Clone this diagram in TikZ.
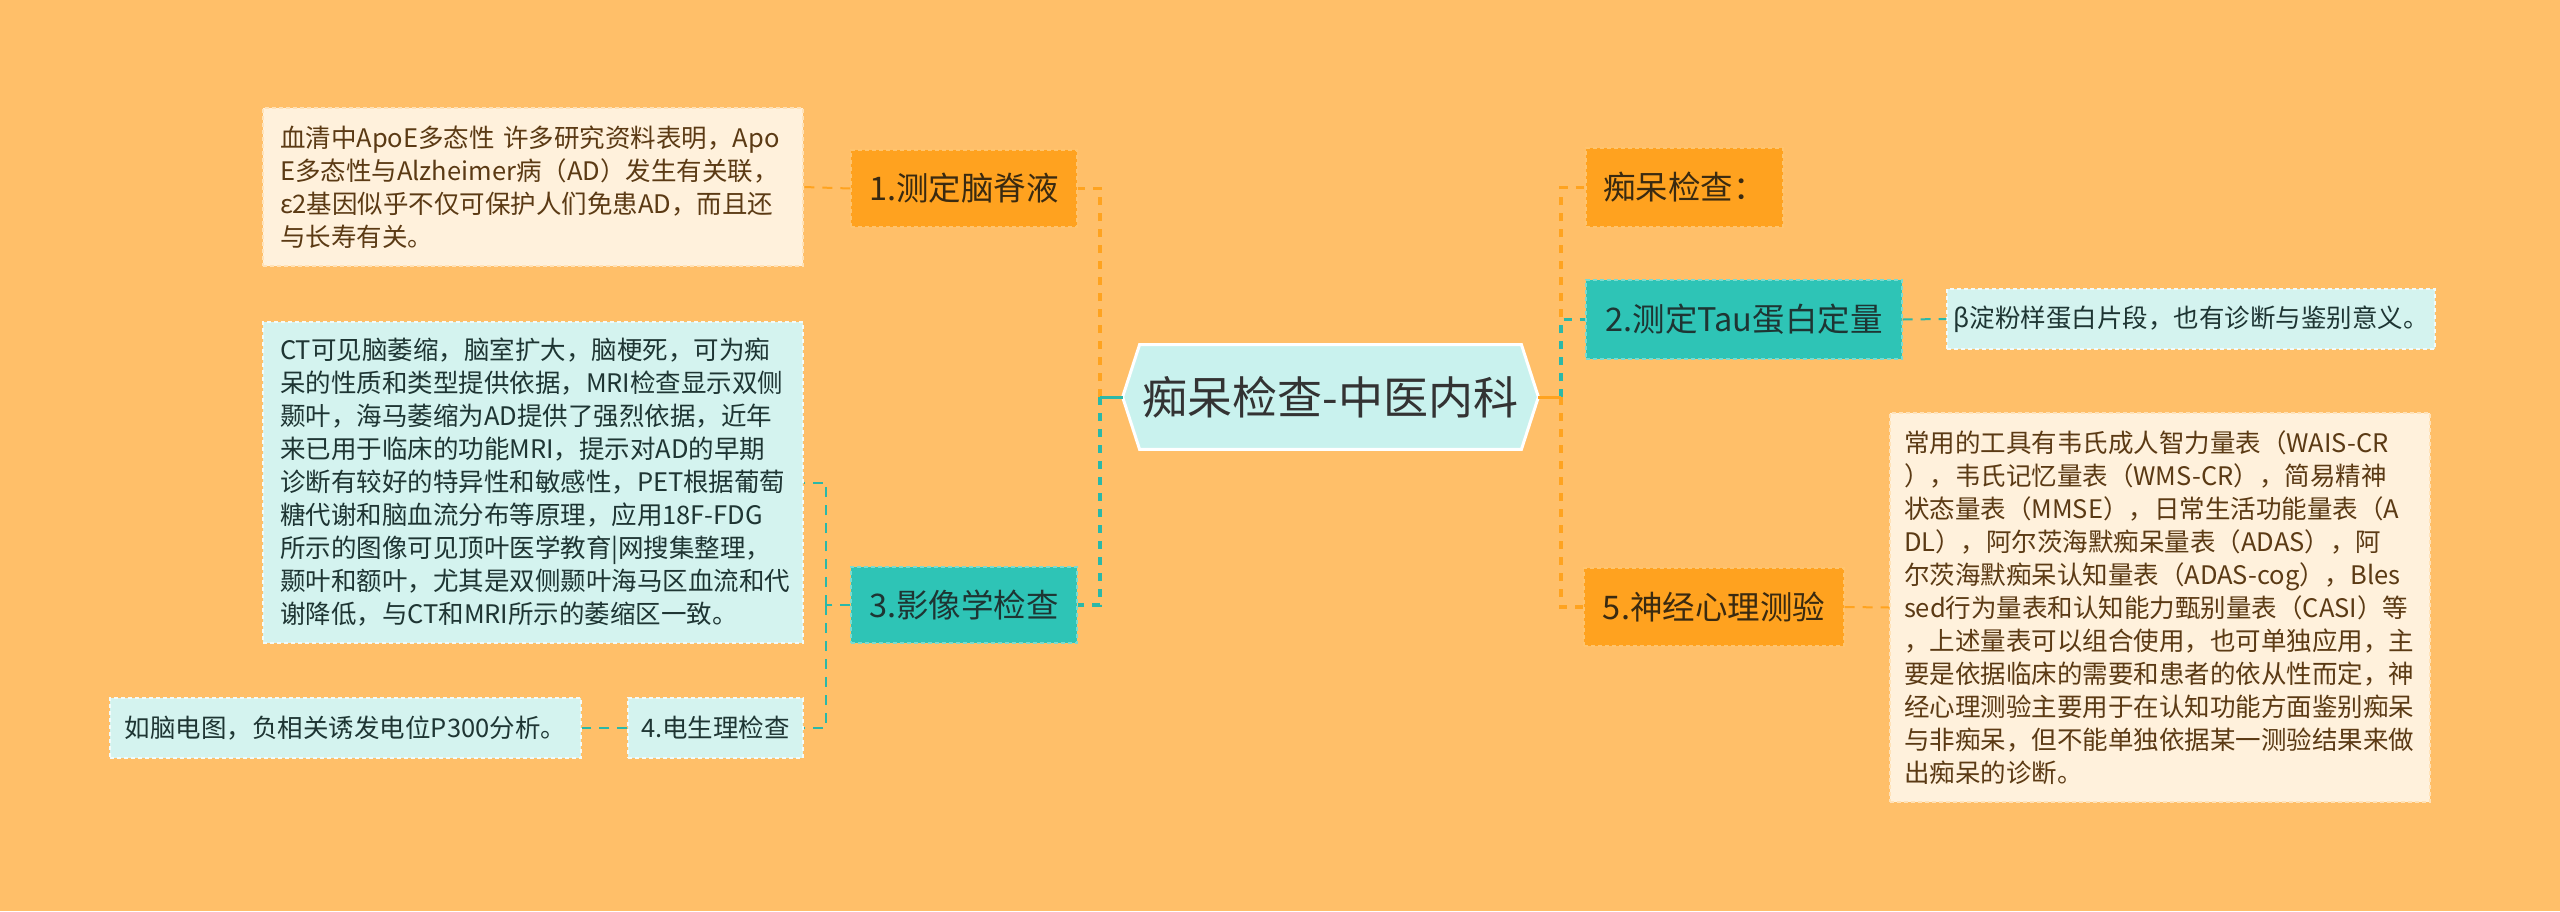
\documentclass[tikz,border=0pt]{standalone}
\usepackage{fontspec}
\setmainfont{Noto Sans CJK SC}
\definecolor{bg}{HTML}{FFBF69}
\definecolor{orgnode}{HTML}{FFA21F}
\definecolor{orgedge}{HTML}{FFC46E}
\definecolor{tealnode}{HTML}{2EC4B6}
\definecolor{tealedge}{HTML}{7ADBD0}
\definecolor{cyanbox}{HTML}{D4F3EF}
\definecolor{cyanedge}{HTML}{F2FBFA}
\definecolor{creambox}{HTML}{FFF1DC}
\definecolor{creamedge}{HTML}{FFE2B8}
\definecolor{hexfill}{HTML}{C9F2EE}
\definecolor{orgline}{HTML}{FFA31F}
\definecolor{tealline}{HTML}{2BB8A8}
\definecolor{browntext}{HTML}{5B3A14}
\definecolor{darktext}{HTML}{1E3533}
\definecolor{maintext}{HTML}{3A2A10}
\definecolor{centertext}{HTML}{333333}
\tikzset{
  boxbase/.style={rectangle, inner sep=0pt, anchor=center, line width=0.6pt, dash pattern=on 2pt off 1.5pt},
  descfont/.style={font=\fontsize{12.75pt}{16.5pt}\selectfont},
  creamdesc/.style={boxbase, fill=creambox, draw=creamedge, text=browntext, descfont, align=left},
  cyandesc/.style={boxbase, fill=cyanbox, draw=cyanedge, text=darktext, descfont, align=left},
  orgtopic/.style={boxbase, fill=orgnode, draw=orgedge, text=maintext, font=\fontsize{16.25pt}{19pt}\selectfont},
  tealtopic/.style={boxbase, fill=tealnode, draw=tealedge, text=darktext, font=\fontsize{16.25pt}{19pt}\selectfont},
  orgmain/.style={draw=orgline, line width=1.6pt, dash pattern=on 4pt off 4pt},
  tealmain/.style={draw=tealline, line width=1.6pt, dash pattern=on 4pt off 4pt},
  orglink/.style={draw=orgline, line width=1pt, dash pattern=on 5pt off 4pt},
  teallink/.style={draw=tealline, line width=1pt, dash pattern=on 5pt off 4pt},
}
\begin{document}
\begin{tikzpicture}[x=0.5pt,y=-0.5pt]
\useasboundingbox (0,0) rectangle (2560,911);
\fill[bg] (0,0) rectangle (2560,911);

% center
\node[minimum width=207.5pt, minimum height=52pt, inner sep=0pt] (c) at (1330.5,397) {};
\fill[hexfill, draw=white, line width=1.5pt] (c.west) -- ([xshift=8.5pt]c.north west) -- ([xshift=-8.5pt]c.north east) -- (c.east) -- ([xshift=-8.5pt]c.south east) -- ([xshift=8.5pt]c.south west) -- cycle;
\node[text=centertext, font=\fontsize{22.5pt}{26pt}\selectfont] (ctext) at (c) {痴呆检查-中医内科};

% left side
\node[orgtopic, minimum width=113pt, minimum height=38.5pt] (n1) at (964,188.5) {1.测定脑脊液};
\node[creamdesc, minimum width=270pt, minimum height=79pt, text width=253pt] (apoe) at (533,187) {血清中ApoE多态性 许多研究资料表明，Apo\\E多态性与Alzheimer病（AD）发生有关联，\\ε2基因似乎不仅可保护人们免患AD，而且还\\与长寿有关。};
\node[tealtopic, minimum width=113pt, minimum height=38pt] (n3) at (964,605) {3.影像学检查};
\node[cyandesc, minimum width=270pt, minimum height=160.5pt, text width=253pt] (ct) at (533,482.5) {CT可见脑萎缩，脑室扩大，脑梗死，可为痴\\呆的性质和类型提供依据，MRI检查显示双侧\\颞叶，海马萎缩为AD提供了强烈依据，近年\\来已用于临床的功能MRI，提示对AD的早期\\诊断有较好的特异性和敏感性，PET根据葡萄\\糖代谢和脑血流分布等原理，应用18F-FDG\\所示的图像可见顶叶医学教育|网搜集整理，\\颞叶和额叶，尤其是双侧颞叶海马区血流和代\\谢降低，与CT和MRI所示的萎缩区一致。};
\node[cyandesc, minimum width=87.5pt, minimum height=30pt] (n4) at (715.5,728) {4.电生理检查};
\node[cyandesc, minimum width=235.5pt, minimum height=30pt] (eeg) at (345.5,728) {如脑电图，负相关诱发电位P300分析。};

% right side
\node[orgtopic, minimum width=98.5pt, minimum height=39.5pt] (t0) at (1684.5,187.5) {痴呆检查：};
\node[tealtopic, minimum width=158pt, minimum height=39.5pt] (n2) at (1744,319.5) {2.测定Tau蛋白定量};
\node[cyandesc, minimum width=244pt, minimum height=30pt] (beta) at (2191,319) {β淀粉样蛋白片段，也有诊断与鉴别意义。};
\node[orgtopic, minimum width=130pt, minimum height=39pt] (n5) at (1714,607) {5.神经心理测验};
\node[creamdesc, minimum width=270pt, minimum height=194.5pt, text width=256pt] (tools) at (2160,607.5) {常用的工具有韦氏成人智力量表（WAIS-CR\\），韦氏记忆量表（WMS-CR），简易精神\\状态量表（MMSE），日常生活功能量表（A\\DL），阿尔茨海默痴呆量表（ADAS），阿\\尔茨海默痴呆认知量表（ADAS-cog），Bles\\sed行为量表和认知能力甄别量表（CASI）等\\，上述量表可以组合使用，也可单独应用，主\\要是依据临床的需要和患者的依从性而定，神\\经心理测验主要用于在认知功能方面鉴别痴呆\\与非痴呆，但不能单独依据某一测验结果来做\\出痴呆的诊断。};

% junctions
\coordinate (jl) at (1100,397);
\coordinate (jr) at (1561,397);
\coordinate (j3) at (826,605);

% connectors left
\draw[orgmain] (jl) |- (n1.east);
\draw[tealmain] (jl) |- (n3.east);
\draw[tealline, line width=1.5pt] (c.west) -- (jl);
\draw[orglink] (n1.west) -- (apoe.east);
\draw[teallink] (n3.west) -- (j3);
\draw[teallink] (j3) |- (ct.east);
\draw[teallink] (j3) |- (n4.east);
\draw[teallink] (n4.west) -- (eeg.east);

% connectors right
\draw[orgmain] (jr) |- (t0.west);
\draw[orgmain] (jr) |- (n5.west);
\draw[tealmain] (jr) |- (n2.west);
\draw[orgline, line width=1.5pt] (c.east) -- (jr);
\draw[teallink] (n2.east) -- (beta.west);
\draw[orglink] (n5.east) -- (tools.west);
\end{tikzpicture}
\end{document}
